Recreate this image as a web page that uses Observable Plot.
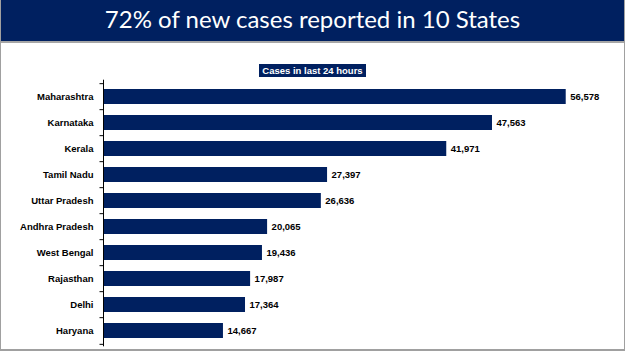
<!DOCTYPE html>
<html>
<head>
<meta charset="utf-8">
<script src="https://cdn.jsdelivr.net/npm/d3@7"></script>
<script src="https://cdn.jsdelivr.net/npm/@observablehq/plot@0.6"></script>
<style>
  html, body { margin: 0; padding: 0; background: #fff; }
  #page { position: relative; width: 625px; height: 351px; overflow: hidden; background: #fff; }
  #frame { position: absolute; left: 0; top: 0; width: 625px; height: 351px; box-sizing: border-box;
           border-left: 1.5px solid #a0a0a0; border-right: 1.5px solid #a0a0a0; border-bottom: 2px solid #a0a0a0; pointer-events: none; }
  #header { position: absolute; left: 0; top: 0; width: 625px; height: 41px; background: #002060;
            border-bottom: 2px solid #a6a6a6; }
  #title { position: absolute; left: 0; top: 0; width: 625px; height: 41px; line-height: 38px; text-align: center;
           color: #fff; font-family: Lato, sans-serif; font-size: 24px; white-space: nowrap; }
  #subtitle { position: absolute; left: 0; top: 60px; width: 625px; text-align: center; }
  #subtitle span { background: #002060; color: #fff; font-family: "Liberation Sans", Arial, sans-serif; font-weight: bold;
                   font-size: 9.5px; padding: 1px 3px; line-height: 12px; }
  #chart { position: absolute; left: 0; top: 76px; width: 625px; height: 275px; }
  #chart svg { display: block; }
</style>
</head>
<body>
<div id="page">
  <div id="header"><div id="title">72% of new cases reported in 10 States</div></div>
  <div id="subtitle"><span>Cases in last 24 hours</span></div>
  <div id="chart"></div>
  <div id="frame"></div>
</div>
<script>
const states = ["Maharashtra", "Karnataka", "Kerala", "Tamil Nadu", "Uttar Pradesh", "Andhra Pradesh", "West Bengal", "Rajasthan", "Delhi", "Haryana"];
const cases = [56578, 47563, 41971, 27397, 26636, 20065, 19436, 17987, 17364, 14667];

const data = states.map((s, i) => ({state: s, cases: cases[i]}));

const W = 625, H = 275;
const mTop = 3.7, mBottom = 4.7;
const step = (H - mTop - mBottom) / states.length;
const fmt = d3.format(",");
const navy = "#002060";
const font = "'Liberation Sans', Arial, sans-serif";

const chart = Plot.plot({
  width: W,
  height: H,
  marginLeft: 103,
  marginRight: 31.3,
  marginTop: mTop,
  marginBottom: mBottom,
  style: {fontFamily: font, fontSize: "9.5px", fontWeight: "bold", color: "#000", background: "transparent"},
  x: {domain: [0, 60000], axis: null},
  y: {domain: states, paddingInner: 0.44, paddingOuter: 0.22, axis: null, label: null},
  marks: [
    Plot.barX(data, {y: "state", x: "cases", fill: navy}),
    Plot.ruleX([0], {stroke: "#000", strokeWidth: 1}),
    Plot.axisY({tickSize: 3.5, tickFormat: () => "", dy: -step / 2, stroke: "#000", label: null}),
    Plot.axisY([states[states.length - 1]], {tickSize: 3.5, tickFormat: () => "", dy: step / 2, stroke: "#000", label: null}),
    Plot.axisY({tickSize: 0, tickPadding: 10, fill: "#000", fontWeight: "bold", fontSize: 9.5, label: null}),
    Plot.text(data, {y: "state", x: "cases", text: d => fmt(d.cases), textAnchor: "start", dx: 4, fill: "#000", fontWeight: "bold", fontSize: 9.5})
  ]
});
document.getElementById("chart").appendChild(chart);
</script>
</body>
</html>
